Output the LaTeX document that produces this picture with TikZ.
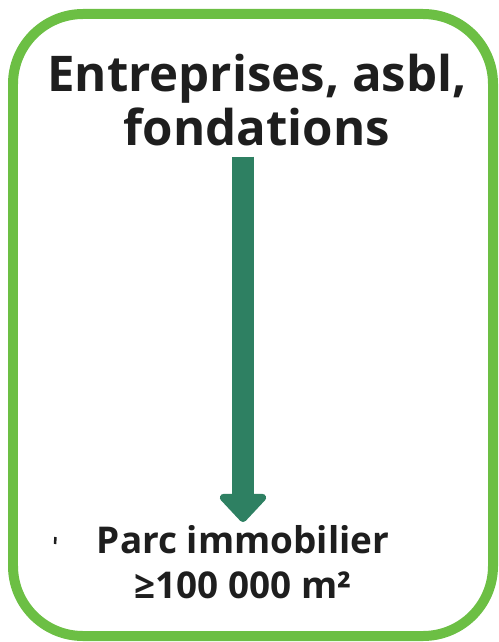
\documentclass[tikz,border=0pt]{standalone}
\usepackage{fontspec}
\setmainfont{Open Sans}
\usetikzlibrary{arrows.meta}
\definecolor{vertcadre}{HTML}{6CBF44}
\definecolor{vertfleche}{HTML}{2E8062}
\definecolor{texte}{HTML}{1E1E1E}
\begin{document}
\begin{tikzpicture}[x=0.02cm,y=-0.02cm,
  titre/.style={align=center,font=\fontsize{28}{31}\selectfont\bfseries,text=texte,inner sep=0pt},
  parcstyle/.style={align=center,font=\fontsize{21}{25.5}\selectfont\bfseries,text=texte,inner sep=0pt},
  fleche/.style={draw=vertfleche,line width=0.44cm,-{Triangle[width=1.08cm,length=0.6cm,round]}}]
\useasboundingbox (0,0) rectangle (499,642);
\draw[vertcadre,line width=0.2cm,rounded corners=1.4cm] (13,14) rectangle (493,636);

\node[titre] (title) at (257,100) {Entreprises, asbl,\\fondations};
\node[parcstyle] (parc) at (243,562) {Parc immobilier\\≥100 000 m²};

\draw[fleche,shorten <=0.2cm,shorten >=0.06cm] (title.south -| parc.north) -- (parc.north);
\draw[texte,line width=0.05cm] (55.5,537) -- (55,544);
\end{tikzpicture}
\end{document}
